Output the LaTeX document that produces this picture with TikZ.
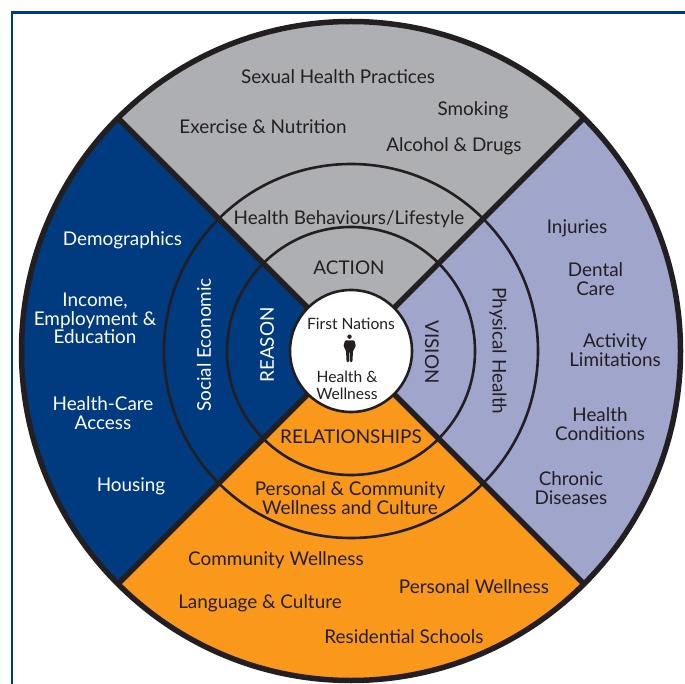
\documentclass[tikz,border=0pt]{standalone}
\usepackage{fontspec}
\setmainfont{Lato}
\usetikzlibrary{positioning}
\definecolor{wheelgray}{HTML}{AEAFB2}
\definecolor{wheelblue}{HTML}{003A7F}
\definecolor{wheelorange}{HTML}{FA981C}
\definecolor{wheellilac}{HTML}{A0A5CC}
\definecolor{wheelink}{HTML}{231F20}
\begin{document}
\begin{tikzpicture}[
    x=1pt,
    y=-1pt,
    dark/.style={text=wheelink, font=\fontsize{18.9}{18.8}\selectfont, align=center},
    light/.style={text=white, font=\fontsize{18.9}{18.8}\selectfont, align=center},
    small/.style={text=wheelink, font=\fontsize{15.6}{16.5}\selectfont, align=center},
    ring/.style={draw=wheelink, line width=2.6pt},
    rim/.style={draw=wheelink, line width=5.5pt}
]
\useasboundingbox (0,0) rectangle (685,684);

% Frame
\draw [wheelblue, line width=2.2pt] (12,684) -- (12,12.5) -- (685,12.5);

% Define quarters of the wheel
\coordinate (hub) at (351,351);
\fill [wheelgray] (hub) -- (118,118) arc [start angle=225, end angle=315, radius=329.5] -- cycle;
\fill [wheellilac] (hub) -- (584,118) arc [start angle=315, end angle=405, radius=329.5] -- cycle;
\fill [wheelorange] (hub) -- (584,584) arc [start angle=45, end angle=135, radius=329.5] -- cycle;
\fill [wheelblue] (hub) -- (118,584) arc [start angle=135, end angle=225, radius=329.5] -- cycle;

% Draw rings and spokes
\draw [ring] (hub) circle [radius=187];
\draw [ring] (hub) circle [radius=124];
\draw [rim] (118,118) -- (584,584);
\draw [rim] (584,118) -- (118,584);
\draw [rim] (hub) circle [radius=329.5];
\node [circle, draw=wheelink, fill=white, line width=2.6pt, minimum size=122pt, inner sep=0pt] (core) at (hub) {};

% Centre
\node [small] (first) at (351,323.5) {First Nations};
\node [small] (health) at (347,385.5) {Health \&\\Wellness};
\fill [wheelink] (349.5,336.7) circle [radius=2.2];
\fill [wheelink, rounded corners=0.8pt] (345,340.5) -- (354.5,340.5) -- (355.8,346) -- (353,351) -- (352.4,362) -- (350,362) -- (349.8,352) -- (349.2,352) -- (349,362) -- (346.6,362) -- (346,351) -- (343.5,346) -- cycle;

% Inner ring
\node [dark] (action) at (349,267.5) {ACTION};
\node [light, rotate=90] (reason) at (267,345) {REASON};
\node [dark, rotate=-90] (vision) at (432,352) {VISION};
\node [dark] (relationships) at (351,436.5) {RELATIONSHIPS};

% Middle ring
\node [dark] (behaviours) at (349,219.5) {Health Behaviours/Lifestyle};
\node [light, rotate=90] (economic) at (204,345) {Social Economic};
\node [dark, rotate=-90] (physical) at (498,351) {Physical Health};
\node [dark] (personal) at (350,498.5) {Personal \& Community\\Wellness and Culture};

% Outer ring, top
\node [dark] (sexual) at (338,76.5) {Sexual Health Practices};
\node [dark] (smoking) at (473,110) {Smoking};
\node [dark] (exercise) at (263,126.5) {Exercise \& Nutrition};
\node [dark] (alcohol) at (454,146) {Alcohol \& Drugs};

% Outer ring, left
\node [light] (demographics) at (122.5,240) {Demographics};
\node [light] (income) at (95,318.5) {Income,\\Employment \&\\Education};
\node [light] (access) at (103,413.5) {Health-Care\\Access};
\node [light] (housing) at (131,486) {Housing};

% Outer ring, right
\node [dark] (injuries) at (577,228) {Injuries};
\node [dark] (dental) at (595.5,279) {Dental\\Care};
\node [dark] (activity) at (615,350.5) {Activity\\Limitations};
\node [dark] (conditions) at (600,424.5) {Health\\Conditions};
\node [dark] (chronic) at (571,488.5) {Chronic\\Diseases};

% Outer ring, bottom
\node [dark] (community) at (276,560) {Community Wellness};
\node [dark] (wellness) at (474,586.5) {Personal Wellness};
\node [dark] (language) at (260,603) {Language \& Culture};
\node [dark] (residential) at (404,636.5) {Residential Schools};
\end{tikzpicture}
\end{document}
